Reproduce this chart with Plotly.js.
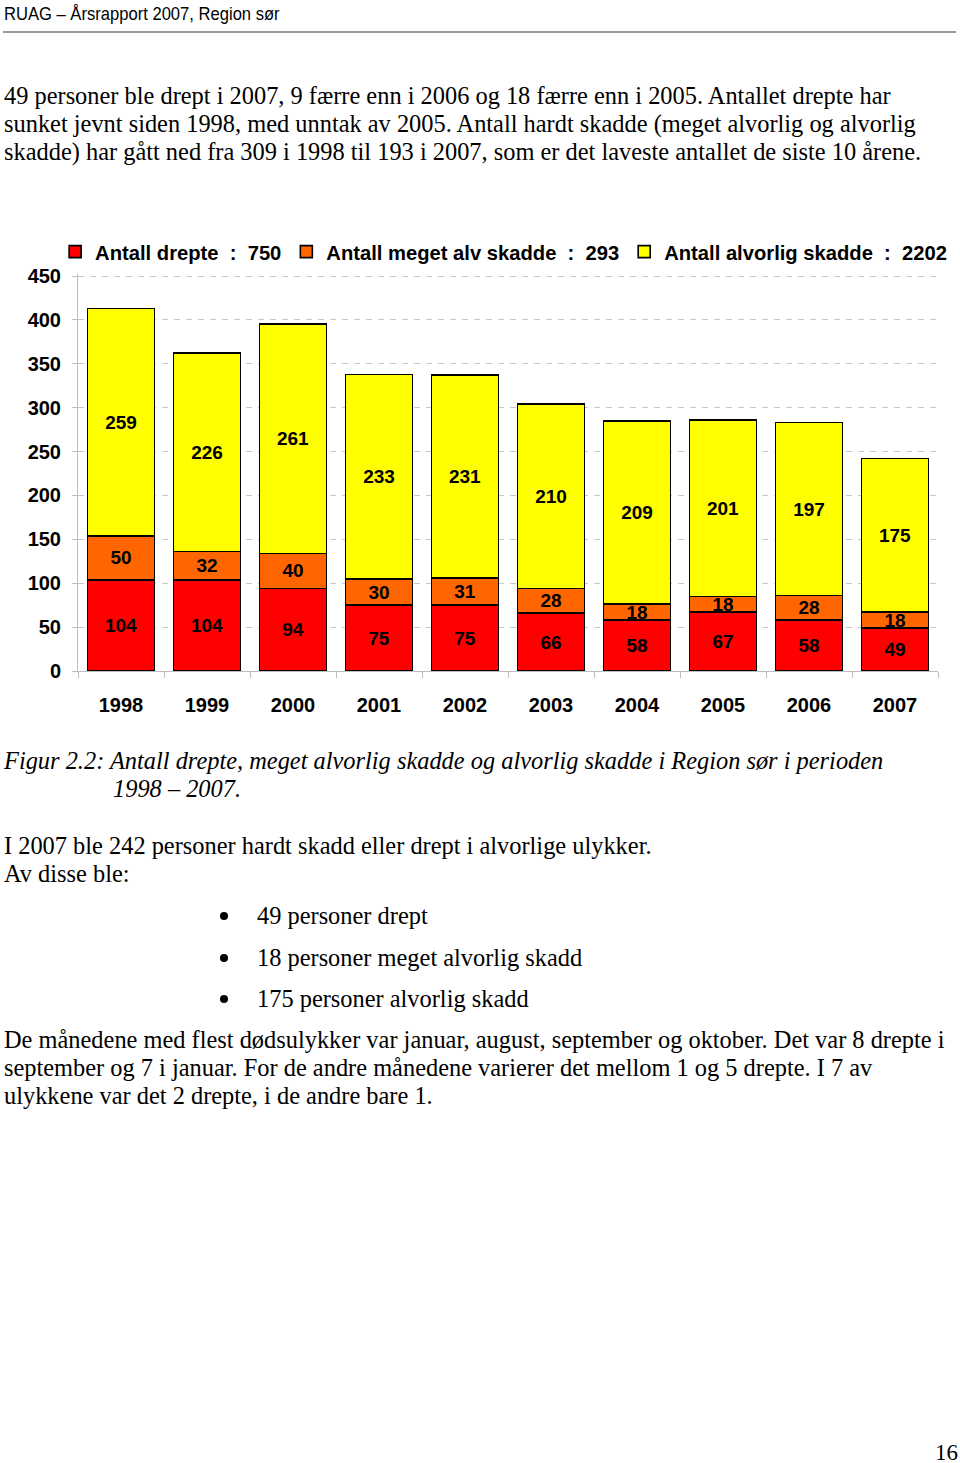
<!DOCTYPE html>
<html>
<head>
<meta charset="utf-8">
<script src="https://cdn.plot.ly/plotly-3.0.1.min.js"></script>
<style>
  html, body { margin:0; padding:0; background:#fff; }
  body { width:960px; height:1463px; position:relative; overflow:hidden; }
  .hdr { position:absolute; left:4px; top:3px; font-family:"Liberation Sans",Arial,sans-serif; font-size:19px; color:#000; white-space:nowrap; transform:scaleX(0.873); transform-origin:0 0; }
  .rule { position:absolute; left:3px; width:953px; top:31px; height:2px; background:#9a9a9a; }
  .t { position:absolute; font-family:"Liberation Serif","Times New Roman",serif; font-size:24.4px; line-height:28px; color:#000; white-space:nowrap; }
  .it { font-style:italic; }
  .dot { position:absolute; width:8px; height:8px; border-radius:50%; background:#000; left:220px; }
  #chart { position:absolute; left:0; top:220px; width:960px; height:510px; }
  .pg { position:absolute; right:2px; top:1440px; font-family:"Liberation Serif",serif; font-size:23px; }
</style>
</head>
<body>
<div class="hdr">RUAG – Årsrapport 2007, Region sør</div>
<div class="rule"></div>

<div class="t" style="left:4px; top:82px;">49 personer ble drept i 2007, 9 færre enn i 2006 og 18 færre enn i 2005. Antallet drepte har<br>sunket jevnt siden 1998, med unntak av 2005. Antall hardt skadde (meget alvorlig og alvorlig<br>skadde) har gått ned fra 309 i 1998 til 193 i 2007, som er det laveste antallet de siste 10 årene.</div>

<div id="chart"></div>

<div class="t it" style="left:4px; top:747px;">Figur 2.2: Antall drepte, meget alvorlig skadde og alvorlig skadde i Region sør i perioden</div>
<div class="t it" style="left:113px; top:775px;">1998 – 2007.</div>

<div class="t" style="left:4px; top:832px;">I 2007 ble 242 personer hardt skadd eller drept i alvorlige ulykker.<br>Av disse ble:</div>

<div class="dot" style="top:912px;"></div>
<div class="t" style="left:257px; top:902px;">49 personer drept</div>
<div class="dot" style="top:954px;"></div>
<div class="t" style="left:257px; top:944px;">18 personer meget alvorlig skadd</div>
<div class="dot" style="top:995px;"></div>
<div class="t" style="left:257px; top:985px;">175 personer alvorlig skadd</div>

<div class="t" style="left:4px; top:1026px;">De månedene med flest dødsulykker var januar, august, september og oktober. Det var 8 drepte i<br>september og 7 i januar. For de andre månedene varierer det mellom 1 og 5 drepte. I 7 av<br>ulykkene var det 2 drepte, i de andre bare 1.</div>

<div class="pg">16</div>

<script>
const years = ['1998','1999','2000','2001','2002','2003','2004','2005','2006','2007'];
const drepte = [104,104,94,75,75,66,58,67,58,49];
const megetAlv = [50,32,40,30,31,28,18,18,28,18];
const alvorlig = [259,226,261,233,231,210,209,201,197,175];
const seriesNames = ['Antall drepte', 'Antall meget alv skadde', 'Antall alvorlig skadde'];
const colors = ['#FF0000', '#FF6600', '#FFFF00'];
const yTicks = [0,50,100,150,200,250,300,350,400,450];

const sum = a => a.reduce((s,v)=>s+v,0);
const NB = '\u00a0';
const FONT = 'Liberation Sans, Arial, sans-serif';
const series = [drepte, megetAlv, alvorlig];
const traces = series.map((vals,i)=>({
  type:'bar',
  x: years,
  y: vals,
  name: seriesNames[i] + NB+NB + ':' + NB+NB + sum(vals),
  marker: { color: colors[i], line: { color:'#000', width:1.6 } },
  text: vals.map(String),
  texttemplate: '%{text}',
  textposition: 'inside',
  insidetextanchor: 'middle',
  textangle: 0,
  textfont: { family:FONT, size:19, color:'#000', weight:'bold' },
  cliponaxis: false,
  hoverinfo: 'skip'
}));

const layout = {
  width: 960, height: 510,
  margin: { l:78, r:22, t:54, b:59 },
  paper_bgcolor:'#fff', plot_bgcolor:'#fff',
  barmode:'stack',
  bargap: 0.22,
  showlegend: true,
  uniformtext: { mode:'show', minsize:19 },
  font: { family:FONT, size:20, color:'#000', weight:'bold' },
  legend: {
    orientation:'h', x:-0.0266, xanchor:'left', y:1.0554, yanchor:'middle',
    traceorder:'normal',
    font: { family:FONT, size:20.2, color:'#000', weight:'bold' },
    itemwidth: 30, bgcolor:'rgba(0,0,0,0)'
  },
  xaxis: {
    type:'category',
    tickson:'boundaries',
    ticks:'outside', ticklen:6, tickcolor:'#bdbdbd', tickwidth:1,
    showline:true, linecolor:'#bdbdbd', linewidth:1,
    showgrid:false,
    ticklabelstandoff: 16,
    tickfont: { family:FONT, size:20, color:'#000', weight:'bold' }
  },
  yaxis: {
    range:[0,452.28],
    tickvals: yTicks,
    ticktext: yTicks.map(String),
    ticks:'outside', ticklen:5, tickcolor:'#bdbdbd', tickwidth:1,
    showline:true, linecolor:'#bdbdbd', linewidth:1,
    showgrid:true, gridcolor:'#c8c8c8', griddash:'6px,6px', gridwidth:1,
    zeroline:false,
    ticklabelstandoff: 7,
    tickfont: { family:FONT, size:20, color:'#000', weight:'bold' }
  }
};

Plotly.newPlot('chart', traces, layout, { displayModeBar:false, staticPlot:true });
</script>
</body>
</html>
